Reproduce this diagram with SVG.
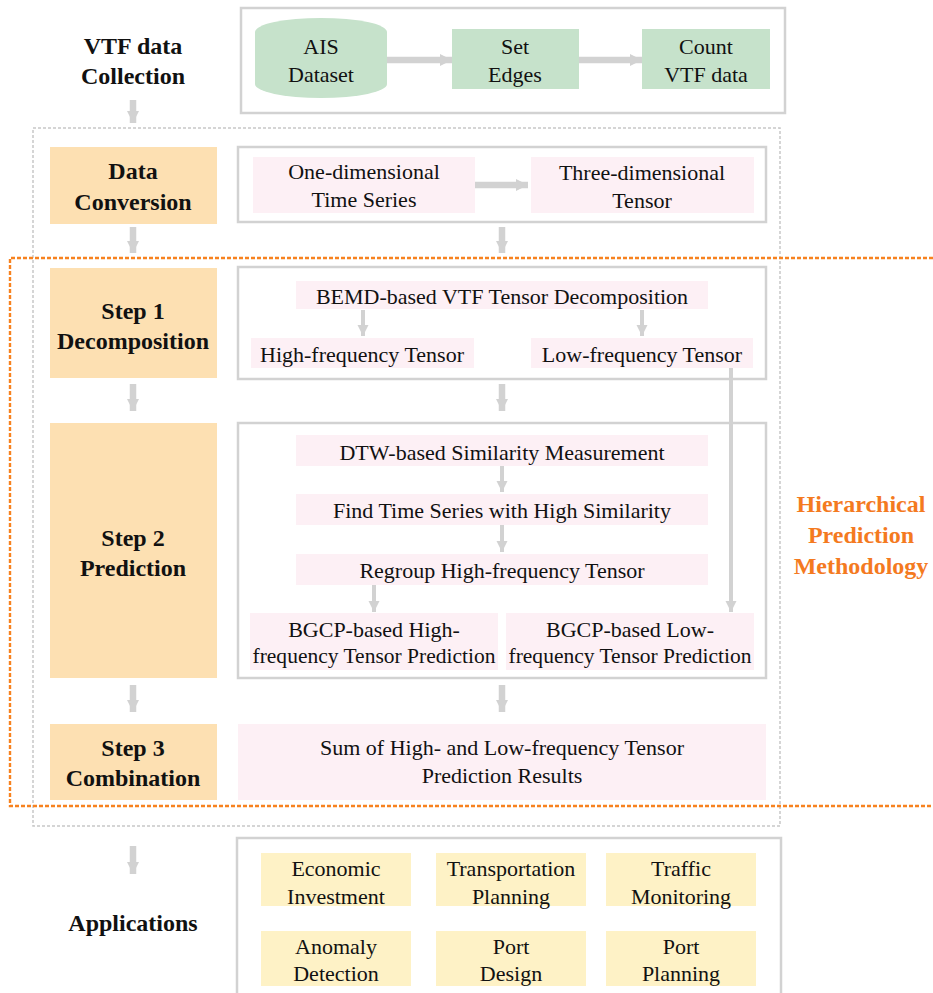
<svg xmlns="http://www.w3.org/2000/svg" width="933" height="993" viewBox="0 0 933 993">
<style>
text{font-family:"Liberation Serif","Times New Roman",serif;text-anchor:middle;fill:#111}
.t{font-size:22px}
.b{font-size:24px;font-weight:bold}
.o{font-size:24px;font-weight:bold;fill:#f47a1f}
.frame{fill:#fff;stroke:#d2d2d2;stroke-width:2.5}
.step{fill:#fde0b2}
.pink{fill:#fdf0f5}
.green{fill:#c6e2cb}
.yellow{fill:#fef2c6}
.arr{stroke:#d2d2d2;stroke-width:6.5;fill:none;marker-end:url(#ah)}
.arr2{stroke:#d2d2d2;stroke-width:4;fill:none;marker-end:url(#ah2)}
</style>
<defs>
<marker id="ah" viewBox="0 0 10 10" refX="10" refY="5" markerUnits="userSpaceOnUse" markerWidth="12" markerHeight="17" orient="auto"><path d="M0,0 L10,5 L0,10 z" fill="#d2d2d2"/></marker>
<marker id="ah2" viewBox="0 0 10 10" refX="10" refY="5" markerUnits="userSpaceOnUse" markerWidth="11" markerHeight="12" orient="auto"><path d="M0,0 L10,5 L0,10 z" fill="#d2d2d2"/></marker>
</defs>
<rect width="933" height="993" fill="#fff"/>

<!-- outer dashed regions -->
<rect x="33" y="128" width="747" height="698" fill="none" stroke="#c8c8c8" stroke-width="1.5" stroke-dasharray="3 2"/>
<path d="M933,258 L10,258 L10,806 L933,806" fill="none" stroke="#f7821f" stroke-width="2.4" stroke-dasharray="4 2"/>

<!-- Collection -->
<g id="collection-label"><text class="b" x="133" y="54">VTF data</text><text class="b" x="133" y="84">Collection</text></g>
<g id="collection-frame"><rect class="frame" x="241" y="8" width="544" height="105"/></g>
<g id="ais"><path class="green" d="M255,32 A66,14 0 0 1 387,32 L387,84 A66,14 0 0 1 255,84 Z"/><text class="t" x="321" y="54">AIS</text><text class="t" x="321" y="82">Dataset</text></g>
<g id="edges"><rect class="green" x="452" y="29" width="127" height="60"/><text class="t" x="515" y="54">Set</text><text class="t" x="515" y="82">Edges</text></g>
<g id="count"><rect class="green" x="642" y="29" width="128" height="60"/><text class="t" x="706" y="54">Count</text><text class="t" x="706" y="82">VTF data</text></g>

<!-- Data conversion -->
<g id="conv-label"><rect class="step" x="50" y="147" width="167" height="77"/><text class="b" x="133" y="179">Data</text><text class="b" x="133" y="210">Conversion</text></g>
<g id="conv-frame"><rect class="frame" x="238" y="147" width="528" height="75"/></g>
<g id="one-dim"><rect class="pink" x="253" y="157" width="222" height="56"/><text class="t" x="364" y="179">One-dimensional</text><text class="t" x="364" y="207">Time Series</text></g>
<g id="three-dim"><rect class="pink" x="531" y="157" width="223" height="56"/><text class="t" x="642" y="180">Three-dimensional</text><text class="t" x="642" y="208">Tensor</text></g>

<!-- Step 1 -->
<g id="step1-label"><rect class="step" x="50" y="268" width="167" height="110"/><text class="b" x="133" y="319">Step 1</text><text class="b" x="133" y="349">Decomposition</text></g>
<g id="step1-frame"><rect class="frame" x="238" y="267" width="528" height="112"/></g>
<g id="bemd"><rect class="pink" x="296" y="281" width="412" height="28"/><text class="t" x="502" y="304">BEMD-based VTF Tensor Decomposition</text></g>
<g id="high-t"><rect class="pink" x="251" y="338" width="223" height="30"/><text class="t" x="362" y="362">High-frequency Tensor</text></g>
<g id="low-t"><rect class="pink" x="531" y="338" width="222" height="30"/><text class="t" x="642" y="362">Low-frequency Tensor</text></g>

<!-- Step 2 -->
<g id="step2-label"><rect class="step" x="50" y="423" width="167" height="255"/><text class="b" x="133" y="546">Step 2</text><text class="b" x="133" y="576">Prediction</text></g>
<g id="step2-frame"><rect class="frame" x="238" y="423" width="528" height="255"/></g>
<g id="dtw"><rect class="pink" x="296" y="435" width="412" height="31"/><text class="t" x="502" y="460">DTW-based Similarity Measurement</text></g>
<g id="find"><rect class="pink" x="296" y="494" width="412" height="31"/><text class="t" x="502" y="518">Find Time Series with High Similarity</text></g>
<g id="regroup"><rect class="pink" x="296" y="554" width="412" height="31"/><text class="t" x="502" y="578">Regroup High-frequency Tensor</text></g>
<g id="bgcp-high"><rect class="pink" x="250" y="613" width="248" height="57"/><text class="t" x="374" y="637">BGCP-based High-</text><text class="t" x="374" y="663" textLength="243" lengthAdjust="spacingAndGlyphs">frequency Tensor Prediction</text></g>
<g id="bgcp-low"><rect class="pink" x="506" y="613" width="248" height="57"/><text class="t" x="630" y="637">BGCP-based Low-</text><text class="t" x="630" y="663" textLength="243" lengthAdjust="spacingAndGlyphs">frequency Tensor Prediction</text></g>

<!-- Step 3 -->
<g id="step3-label"><rect class="step" x="50" y="724" width="167" height="76"/><text class="b" x="133" y="756">Step 3</text><text class="b" x="133" y="786">Combination</text></g>
<g id="sum"><rect class="pink" x="238" y="724" width="528" height="76"/><text class="t" x="502" y="755">Sum of High- and Low-frequency Tensor</text><text class="t" x="502" y="783">Prediction Results</text></g>

<!-- Hierarchical label -->
<g id="hier-label"><text class="o" x="861" y="512">Hierarchical</text><text class="o" x="861" y="543">Prediction</text><text class="o" x="861" y="574">Methodology</text></g>

<!-- Applications -->
<g id="app-label"><text class="b" x="133" y="931">Applications</text></g>
<g id="app-frame"><rect class="frame" x="237" y="838" width="544" height="160"/></g>
<g id="app1"><rect class="yellow" x="261" y="853" width="150" height="53"/><text class="t" x="336" y="876">Economic</text><text class="t" x="336" y="904">Investment</text></g>
<g id="app2"><rect class="yellow" x="436" y="853" width="150" height="53"/><text class="t" x="511" y="876">Transportation</text><text class="t" x="511" y="904">Planning</text></g>
<g id="app3"><rect class="yellow" x="606" y="853" width="150" height="53"/><text class="t" x="681" y="876">Traffic</text><text class="t" x="681" y="904">Monitoring</text></g>
<g id="app4"><rect class="yellow" x="261" y="931" width="150" height="55"/><text class="t" x="336" y="954">Anomaly</text><text class="t" x="336" y="981">Detection</text></g>
<g id="app5"><rect class="yellow" x="436" y="931" width="150" height="55"/><text class="t" x="511" y="954">Port</text><text class="t" x="511" y="981">Design</text></g>
<g id="app6"><rect class="yellow" x="606" y="931" width="150" height="55"/><text class="t" x="681" y="954">Port</text><text class="t" x="681" y="981">Planning</text></g>

<!-- connectors -->
<g id="connectors">
<line class="arr" x1="387" y1="60" x2="452" y2="60"/>
<line class="arr" x1="579" y1="60" x2="642" y2="60"/>
<line class="arr" x1="133" y1="100" x2="133" y2="123"/>
<line class="arr" x1="475" y1="185" x2="528" y2="185"/>
<line class="arr" x1="133" y1="227" x2="133" y2="253"/>
<line class="arr" x1="502" y1="227" x2="502" y2="253"/>
<line class="arr2" x1="363" y1="310" x2="363" y2="336"/>
<line class="arr2" x1="642" y1="310" x2="642" y2="336"/>
<line class="arr2" x1="731" y1="368" x2="731" y2="612"/>
<line class="arr" x1="133" y1="384" x2="133" y2="411"/>
<line class="arr" x1="502" y1="384" x2="502" y2="411"/>
<line class="arr2" x1="502" y1="466" x2="502" y2="492"/>
<line class="arr2" x1="502" y1="525" x2="502" y2="552"/>
<line class="arr2" x1="374" y1="585" x2="374" y2="612"/>
<line class="arr" x1="133" y1="685" x2="133" y2="712"/>
<line class="arr" x1="502" y1="685" x2="502" y2="712"/>
<line class="arr" x1="133" y1="846" x2="133" y2="874"/>
</g>
</svg>
